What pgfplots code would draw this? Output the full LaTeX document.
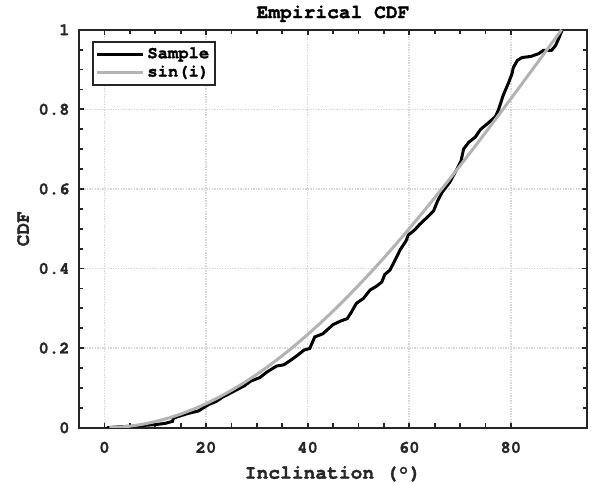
\documentclass[border=0pt]{standalone}
\usepackage{pgfplots}
\pgfplotsset{compat=1.18}
\usepackage{fontspec}
\setmainfont{TeX Gyre Cursor}[BoldFeatures={FakeBold=1.5}]
\definecolor{axc}{RGB}{38,38,38}
\definecolor{sinc}{RGB}{179,179,179}
\definecolor{gridc}{RGB}{215,215,215}

\begin{document}
\begin{tikzpicture}
\begin{axis}[
    scale only axis,
    width=254pt, height=199pt,
    xmin=-5, xmax=95, ymin=0, ymax=1,
    xtick={0,20,40,60,80},
    ytick={0,0.2,0.4,0.6,0.8,1},
    minor x tick num=3,
    minor y tick num=3,
    tick align=inside,
    major tick length=2.6pt,
    minor tick length=2.2pt,
    every tick/.style={axc, line width=0.9pt},
    axis line style={axc, line width=1pt},
    grid=major,
    major grid style={gridc, line width=0.8pt, dash pattern=on 0.65pt off 0.65pt},
    /pgf/number format/assume math mode=true,
    tick label style={font=\bfseries\fontsize{8.6}{10}\selectfont, text=axc},
    yticklabel style={xshift=-1.2pt},
    xticklabel style={yshift=-3.5pt},
    title={Empirical CDF},
    every axis title shift=0pt,
    title style={font=\bfseries\fontsize{9.8}{11}\selectfont, at={(0.5,1.04)}, anchor=center, yshift=0pt},
    xlabel={Inclination (°)},
    xlabel style={font=\bfseries\fontsize{9.8}{11}\selectfont, text=axc, at={(0.5,-0.116)}, anchor=center},
    ylabel={CDF},
    ylabel style={font=\bfseries\fontsize{9.8}{11}\selectfont, text=axc, at={(-0.110,0.5)}, anchor=center, rotate=0},
    legend style={at={(0.026,0.972)}, anchor=north west, draw=axc, line width=1pt,
        font=\bfseries\fontsize{8.6}{10}\selectfont, inner sep=1.2pt, row sep=-1pt,
        nodes={inner sep=1.6pt}},
    legend cell align=left,
    legend image code/.code={\draw[#1] (0cm,0cm) -- (0.8cm,0cm);},
]
\addplot[black, line width=1.5pt] coordinates {
(0.5,0) (1.5,0.001) (4,0.003) (6,0.004) (8,0.006) (10.2,0.008) (12,0.011)
(13.4,0.016) (13.6,0.024) (15,0.03) (16.5,0.036) (17.5,0.039) (18.5,0.042)
(19.5,0.05) (20.5,0.058) (22,0.066) (23.3,0.077) (24.5,0.085) (26,0.095)
(27.5,0.105) (28.8,0.117) (30.6,0.126) (32,0.14) (33.9,0.155) (35.3,0.158)
(36.5,0.168) (37.8,0.18) (39.3,0.195) (40.4,0.199) (40.8,0.21) (41.4,0.228)
(43,0.236) (45,0.259) (46.5,0.268) (47.8,0.274) (48.6,0.29) (49.6,0.3125)
(51,0.325) (52.3,0.346) (53.5,0.355) (54.6,0.366) (55.2,0.385) (56.2,0.396)
(56.9,0.413) (58.2,0.4465) (59.4,0.47) (59.8,0.484) (61,0.496) (62,0.51)
(63.4,0.527) (64.8,0.545) (65.6,0.57) (66.5,0.592) (68,0.617) (69.4,0.650)
(70.2,0.67) (70.7,0.700) (71.7,0.717) (73,0.73) (74,0.749) (75.5,0.765)
(77,0.782) (77.6,0.800) (78.5,0.835) (79.5,0.865) (80.2,0.888) (80.5,0.905)
(81.3,0.923) (82.2,0.93) (84,0.933) (85.5,0.94) (86.4,0.948) (88,0.948)
(88.8,0.96) (89.5,0.98) (90.1,0.999)
};
\addlegendentry{Sample}
\addplot[sinc, line width=1.5pt] coordinates {
(1,0.0002) (2.5,0.00095) (5,0.0038) (7.5,0.00856) (10,0.0152) (12.5,0.0237)
(15,0.0341) (17.5,0.0463) (20,0.0603) (22.5,0.0761) (25,0.0937) (27.5,0.1130)
(30,0.1340) (32.5,0.1566) (35,0.1808) (37.5,0.2066) (40,0.2340) (42.5,0.2627)
(45,0.2929) (47.5,0.3244) (50,0.3572) (52.5,0.3912) (55,0.4264) (57.5,0.4627)
(60,0.5) (62.5,0.5383) (65,0.5774) (67.5,0.6173) (70,0.6580) (72.5,0.6993)
(75,0.7412) (77.5,0.7836) (80,0.8264) (82.5,0.8695) (85,0.9128) (87.5,0.9564)
(90,1)
};
\addlegendentry{sin(i)}
\end{axis}
\pgfresetboundingbox
\path (-39.5pt,-27.65pt) rectangle (259pt,213.85pt);
\end{tikzpicture}
\end{document}
